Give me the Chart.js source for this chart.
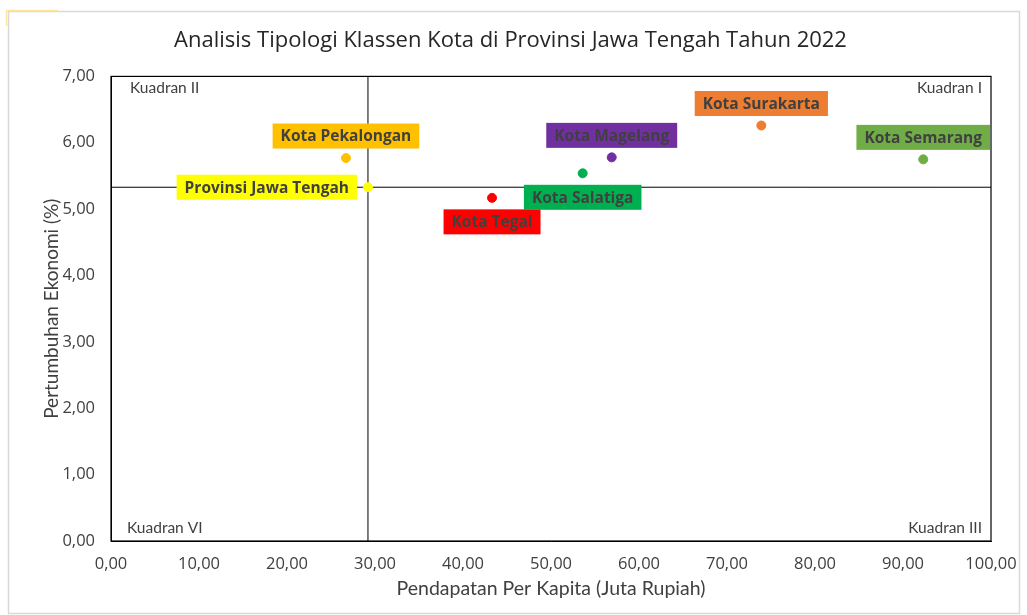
<!DOCTYPE html>
<html>
<head>
<meta charset="utf-8">
<script src="https://cdn.jsdelivr.net/npm/chart.js@4.4.1/dist/chart.umd.min.js"></script>
<style>
  html, body { margin: 0; padding: 0; background: #fff; }
  #wrap { width: 1027px; height: 615px; }
</style>
</head>
<body>
<div id="wrap"><canvas id="c" width="1027" height="615"></canvas></div>
<script>
// data
const cities = ['Kota Pekalongan', 'Provinsi Jawa Tengah', 'Kota Tegal', 'Kota Salatiga', 'Kota Magelang', 'Kota Surakarta', 'Kota Semarang'];
const perCapita = [26.7, 29.2, 43.3, 53.6, 56.9, 73.9, 92.3];
const growth = [5.77, 5.33, 5.17, 5.54, 5.78, 6.26, 5.75];
const colors = ['#FFC000', '#FFFF00', '#FF0000', '#00B050', '#7030A0', '#ED7D31', '#70AD47'];
const labelSide = ['top', 'left', 'bottom', 'bottom', 'top', 'top', 'top'];
const quadrants = ['Kuadran II', 'Kuadran I', 'Kuadran VI', 'Kuadran III'];

const refX = perCapita[1];
const refY = growth[1];

const fmt = v => Number(v).toFixed(2).replace('.', ',');

// frame, plot border, quadrant texts, point labels
const extras = {
  id: 'extras',
  beforeDraw(chart) {
    const ctx = chart.ctx;
    ctx.save();
    ctx.strokeStyle = '#d9d9d9';
    ctx.lineWidth = 1.5;
    ctx.strokeRect(8.5, 11.5, 1011, 602);
    ctx.strokeStyle = '#ffe699';
    ctx.beginPath();
    ctx.moveTo(6.5, 26); ctx.lineTo(6.5, 10.5); ctx.lineTo(58, 10.5);
    ctx.stroke();
    ctx.restore();
  },
  afterDatasetsDraw(chart) {
    const ctx = chart.ctx;
    const a = chart.chartArea;
    ctx.save();
    ctx.strokeStyle = '#000';
    ctx.lineWidth = 1.2;
    ctx.strokeRect(a.left, a.top, a.right - a.left, a.bottom - a.top);

    ctx.fillStyle = '#404040';
    ctx.font = '15.5px Lato, "Liberation Sans", sans-serif';
    ctx.textBaseline = 'middle';
    ctx.textAlign = 'left';
    ctx.fillText(quadrants[0], a.left + 19, a.top + 12);
    ctx.fillText(quadrants[2], a.left + 16, a.bottom - 13);
    ctx.textAlign = 'right';
    ctx.fillText(quadrants[1], a.right - 9, a.top + 12);
    ctx.fillText(quadrants[3], a.right - 9, a.bottom - 13);

    const meta = chart.getDatasetMeta(0);
    ctx.font = 'bold 15.5px "Open Sans", sans-serif';
    ctx.textAlign = 'center';
    meta.data.forEach((pt, i) => {
      const text = cities[i];
      const w = ctx.measureText(text).width + 16;
      const h = 25;
      let cx = pt.x, cy = pt.y;
      if (labelSide[i] === 'top') cy -= 22;
      else if (labelSide[i] === 'bottom') cy += 24;
      else if (labelSide[i] === 'left') cx = pt.x - 11 - w / 2;
      let x0 = cx - w / 2;
      let x1 = cx + w / 2;
      if (x1 > a.right) x1 = a.right;
      ctx.fillStyle = colors[i];
      ctx.fillRect(x0, cy - h / 2, x1 - x0, h);
      ctx.fillStyle = '#404040';
      ctx.fillText(text, (x0 + x1) / 2, cy + 1);
    });
    ctx.restore();
  }
};

new Chart(document.getElementById('c'), {
  type: 'scatter',
  data: {
    datasets: [{
      label: 'Kota',
      data: perCapita.map((x, i) => ({ x: x, y: growth[i] })),
      backgroundColor: colors,
      borderColor: colors,
      pointRadius: 4.5,
      pointHoverRadius: 4.5,
      order: 0
    }, {
      type: 'line',
      label: 'vline',
      data: [{ x: refX, y: 0 }, { x: refX, y: 7 }],
      borderColor: '#000',
      borderWidth: 1,
      pointRadius: 0,
      order: 1
    }, {
      type: 'line',
      label: 'hline',
      data: [{ x: 0, y: refY }, { x: 100, y: refY }],
      borderColor: '#000',
      borderWidth: 1,
      pointRadius: 0,
      order: 1
    }]
  },
  options: {
    responsive: false,
    animation: false,
    layout: { padding: { left: 30, right: 36, top: 6, bottom: 15 } },
    plugins: {
      legend: { display: false },
      tooltip: { enabled: false },
      title: {
        display: true,
        text: 'Analisis Tipologi Klassen Kota di Provinsi Jawa Tengah Tahun 2022',
        color: '#262626',
        font: { family: '"Open Sans", sans-serif', size: 22, weight: 'normal' },
        padding: { top: 22, bottom: 22 }
      }
    },
    scales: {
      x: {
        type: 'linear',
        min: 0, max: 100,
        grid: { display: false },
        border: { display: true, color: '#000', width: 1 },
        ticks: {
          stepSize: 10, padding: 5, color: '#404040',
          font: { family: '"Open Sans", sans-serif', size: 16.5 },
          callback: v => fmt(v)
        },
        title: {
          display: true,
          text: 'Pendapatan Per Kapita (Juta Rupiah)',
          color: '#404040',
          font: { family: 'Lato, sans-serif', size: 19.5 },
          padding: { top: 4, bottom: 0 }
        },
        afterFit: s => { s.height = 59; }
      },
      y: {
        min: 0, max: 7,
        grid: { display: false },
        border: { display: true, color: '#000', width: 1 },
        ticks: {
          stepSize: 1, padding: 8, color: '#404040',
          font: { family: '"Open Sans", sans-serif', size: 16.5 },
          callback: v => fmt(v)
        },
        title: {
          display: true,
          text: 'Pertumbuhan Ekonomi (%)',
          color: '#404040',
          font: { family: 'Lato, sans-serif', size: 19 },
          padding: { top: 10, bottom: 0 }
        },
        afterFit: s => { s.width = 81; }
      }
    }
  },
  plugins: [extras]
});
</script>
</body>
</html>
